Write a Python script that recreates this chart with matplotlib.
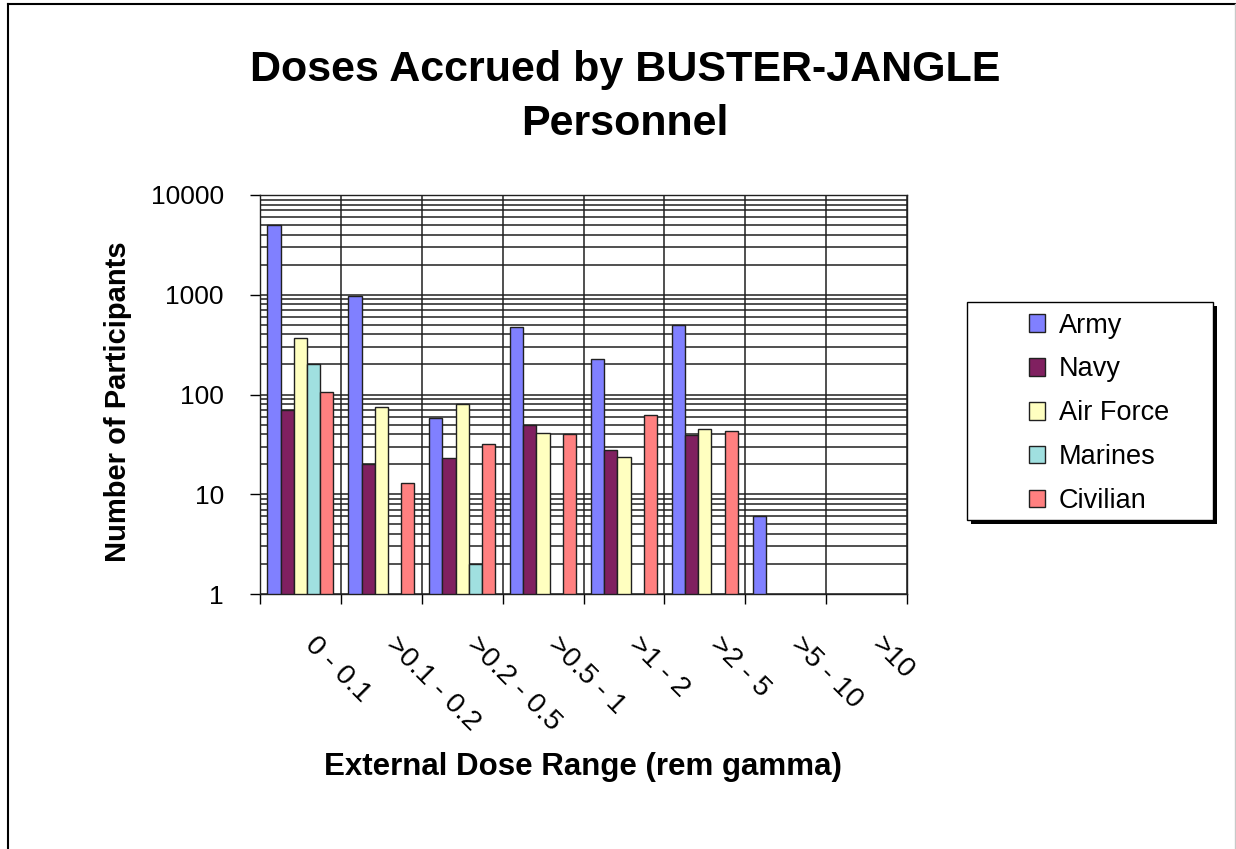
import numpy as np
import matplotlib.pyplot as plt
from matplotlib.patches import Rectangle
from matplotlib.lines import Line2D
from matplotlib.transforms import ScaledTranslation

plt.rcParams['font.family'] = ['Liberation Sans', 'DejaVu Sans']

categories = ['0 - 0.1', '>0.1 - 0.2', '>0.2 - 0.5', '>0.5 - 1',
              '>1 - 2', '>2 - 5', '>5 - 10', '>10']
services = ['Army', 'Navy', 'Air Force', 'Marines', 'Civilian']
army = [5000, 980, 58, 480, 227, 500, 6, np.nan]
navy = [70, 20, 23, 50, 28, 39, np.nan, np.nan]
air_force = [370, 75, 80, 41, 23.5, 45, np.nan, np.nan]
marines = [200, np.nan, 2, np.nan, np.nan, np.nan, np.nan, np.nan]
civilian = [105, 13, 32, 40, 62, 43, np.nan, np.nan]
yticks = [1, 10, 100, 1000, 10000]
ytick_labels = ['1', '10', '100', '1000', '10000']

series = [army, navy, air_force, marines, civilian]
colors = ['#8080ff', '#802060', '#ffffc0', '#a0e0e0', '#ff8080']

W, H = 1236, 849
fig = plt.figure(figsize=(W / 100, H / 100), dpi=100, facecolor='white')
ax = fig.add_axes([260 / W, 1 - 594 / H, 647 / W, 399 / H])
ax.set_yscale('log')
ax.set_ylim(1, 10000)
ax.set_xlim(-0.5, len(categories) - 0.5)

# gridlines behind bars
ax.set_axisbelow(True)
ax.grid(True, which='both', axis='y', color='#202020', lw=1.1)

x = np.arange(len(categories))
w = 0.163
for i, (name, vals, c) in enumerate(zip(services, series, colors)):
    ax.bar(x + (i - 2) * w, vals, w, color=c, edgecolor='#202020',
           linewidth=1.0, label=name)

ax.set_yticks(yticks, labels=ytick_labels)
ax.tick_params(axis='y', which='major', direction='out', length=7,
               width=1, pad=19, labelsize=19)
ax.tick_params(axis='y', which='minor', length=0)

ax.set_xticks(np.arange(len(categories) + 1) - 0.5)
ax.set_xticklabels([])
ax.grid(True, which='major', axis='x', color='#202020', lw=1.1)
ax.set_xticks(x, labels=categories, minor=True)
ax.tick_params(axis='x', which='major', direction='out', length=7, width=1)
ax.tick_params(axis='x', which='minor', length=0, pad=27, labelsize=20.5)
offset = ScaledTranslation(18 / 100, 0, fig.dpi_scale_trans)
for lbl in ax.get_xticklabels(minor=True):
    lbl.set_rotation(-45)
    lbl.set_rotation_mode('anchor')
    lbl.set_ha('left')
    lbl.set_va('top')
    lbl.set_transform(lbl.get_transform() + offset)

for sp in ax.spines.values():
    sp.set_color('#202020')
    sp.set_linewidth(1.0)

fig.text(625 / W, 1 - 97 / H, 'Doses Accrued by BUSTER-JANGLE\nPersonnel',
         ha='center', va='center', fontsize=31, fontweight='bold',
         linespacing=1.42)
fig.text(583 / W, 1 - 767 / H, 'External Dose Range (rem gamma)',
         ha='center', va='center', fontsize=22.5, fontweight='bold')
fig.text(118 / W, 1 - 402 / H, 'Number of Participants', rotation=90,
         ha='center', va='center', fontsize=21, fontweight='bold')

# legend box with shadow
fig.patches.append(Rectangle((971 / W, 1 - 524 / H), 246 / W, 218 / H,
                             transform=fig.transFigure, facecolor='black',
                             edgecolor='none', zorder=1))
fig.patches.append(Rectangle((967 / W, 1 - 520 / H), 246 / W, 218 / H,
                             transform=fig.transFigure, facecolor='white',
                             edgecolor='black', lw=1.0, zorder=2))
leg = fig.legend(loc='upper left', bbox_to_anchor=(1015 / W, 1 - 299 / H),
                 frameon=False, fontsize=19.5, borderpad=0, labelspacing=0.66,
                 handlelength=0.62, handleheight=0.62, handletextpad=0.5)
leg.set_zorder(3)

# outer border of the chart
fig.add_artist(Line2D([7.5 / W, 7.5 / W], [0, 1 - 3.5 / H], color='black', lw=1.5,
                      transform=fig.transFigure))
fig.add_artist(Line2D([7.5 / W, 1235 / W], [1 - 3.5 / H, 1 - 3.5 / H], color='black',
                      lw=1.5, transform=fig.transFigure))
fig.add_artist(Line2D([1235 / W, 1235 / W], [0, 1 - 3.5 / H], color='#c8c8c8', lw=1,
                      transform=fig.transFigure))

fig.savefig('out.png', dpi=100)
